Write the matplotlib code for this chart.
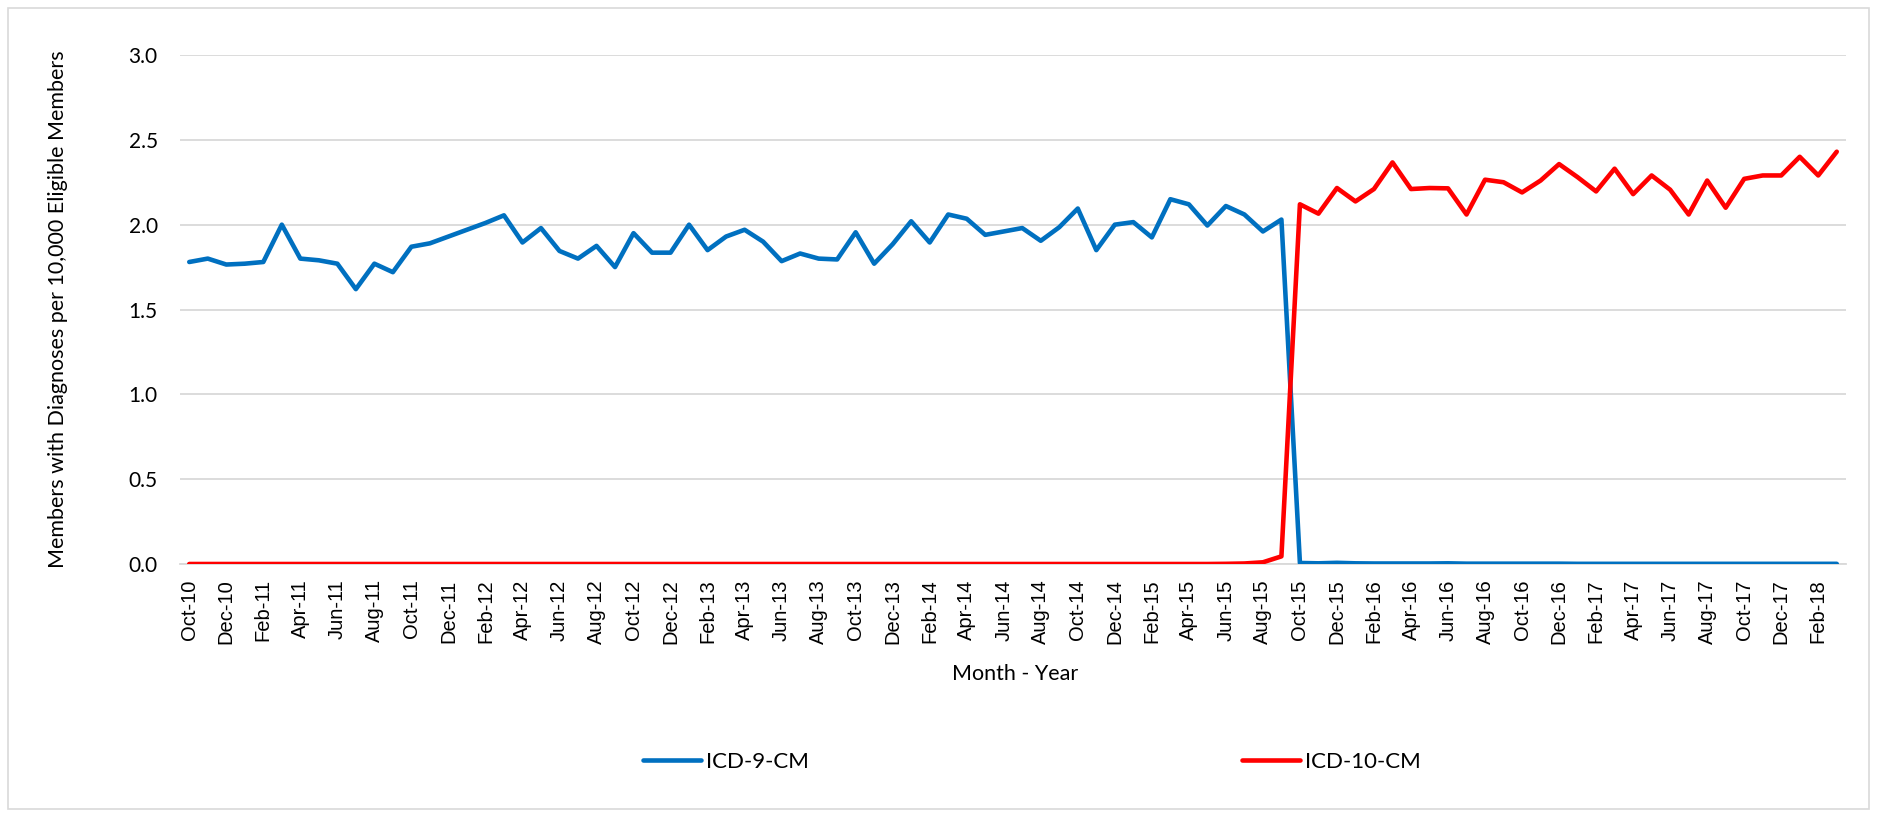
import matplotlib
matplotlib.use("Agg")
import matplotlib.pyplot as plt
from matplotlib.lines import Line2D
from matplotlib.patches import Rectangle
import pandas as pd

# monthly categories, Oct-10 .. Mar-18
months = pd.date_range("2010-10-01", periods=90, freq="MS").strftime("%b-%y").tolist()

icd9 = [
    1.78, 1.80, 1.765,
    1.77, 1.78, 2.00, 1.80, 1.79, 1.77, 1.62, 1.77, 1.72, 1.87, 1.89, 1.93,
    1.97, 2.01, 2.055, 1.895, 1.98, 1.845, 1.80, 1.875, 1.75, 1.95, 1.835, 1.835,
    2.00, 1.85, 1.93, 1.97, 1.90, 1.785, 1.83, 1.80, 1.795, 1.955, 1.77, 1.885,
    2.02, 1.895, 2.06, 2.035, 1.94, 1.96, 1.98, 1.905, 1.985, 2.095, 1.85, 2.00,
    2.015, 1.925, 2.15, 2.12, 1.995, 2.11, 2.06, 1.96, 2.03, 0.006, 0.004, 0.007,
    0.004, 0.003, 0.003, 0.003, 0.003, 0.004, 0.002, 0.002, 0.002, 0.002, 0.002, 0.002,
    0.001, 0.001, 0.001, 0.001, 0.001, 0.001, 0.001, 0.001, 0.001, 0.001, 0.001, 0.001,
    0.001, 0.001, 0.001,
]

icd10 = [
    0.0, 0.0, 0.0,
    0.0, 0.0, 0.0, 0.0, 0.0, 0.0, 0.0, 0.0, 0.0, 0.0, 0.0, 0.0,
    0.0, 0.0, 0.0, 0.0, 0.0, 0.0, 0.0, 0.0, 0.0, 0.0, 0.0, 0.0,
    0.0, 0.0, 0.0, 0.0, 0.0, 0.0, 0.0, 0.0, 0.0, 0.0, 0.0, 0.0,
    0.0, 0.0, 0.0, 0.0, 0.0, 0.0, 0.0, 0.0, 0.0, 0.0, 0.0, 0.0,
    0.0, 0.0, 0.0, 0.0, 0.0, 0.001, 0.003, 0.01, 0.045, 2.12, 2.065, 2.216,
    2.137, 2.21, 2.367, 2.21, 2.216, 2.214, 2.06, 2.265, 2.25, 2.19, 2.26, 2.357,
    2.28, 2.196, 2.33, 2.18, 2.29, 2.206, 2.06, 2.26, 2.10, 2.27, 2.29, 2.29,
    2.40, 2.29, 2.43,
]

BLUE = "#0070C0"
RED = "#FF0000"
GRID = "#D9D9D9"

W, H = 1877, 817
fig = plt.figure(figsize=(W / 100, H / 100), dpi=100)
# plot area in pixels: x 180..1846, y 55..564
ax = fig.add_axes([180 / W, 1 - 564 / H, (1846 - 180) / W, (564 - 55) / H])

x = list(range(len(months)))
ax.plot(x, icd9, color=BLUE, linewidth=3.3, solid_joinstyle="round",
        solid_capstyle="round", zorder=3)
ax.plot(x, icd10, color=RED, linewidth=3.3, solid_joinstyle="round",
        solid_capstyle="round", zorder=3)

ax.set_xlim(-0.5, len(months) - 0.5)
ax.set_ylim(0, 3.0)
yt = [0, 0.5, 1.0, 1.5, 2.0, 2.5, 3.0]
ax.set_yticks(yt)
ax.set_yticklabels(["%.1f" % v for v in yt], family="Lato", fontsize=15)
ax.yaxis.grid(True, color=GRID, linewidth=1.3)
ax.set_axisbelow(True)

ax.set_xticks(x[::2])
ax.set_xticklabels(months[::2], rotation=90, family="Liberation Sans", fontsize=14.5)
ax.tick_params(axis="both", length=0)
ax.tick_params(axis="y", pad=16)
ax.tick_params(axis="x", pad=11)

for side in ["top", "right", "left"]:
    ax.spines[side].set_visible(False)
ax.spines["bottom"].set_color(GRID)
ax.spines["bottom"].set_linewidth(1.3)

ax.set_ylabel("Members with Diagnoses per 10,000 Eligible Members",
              family="Lato", fontsize=15.5)
ax.yaxis.set_label_coords(-(180 - 68) / (1846 - 180), 0.5)
fig.text(1015 / W, 1 - 674 / H, "Month - Year", family="Lato", fontsize=15.5,
         ha="center", va="center")

# legend entries placed separately, like the spread-out Excel legend
for label, color, px in [("ICD-9-CM", BLUE, 634), ("ICD-10-CM", RED, 1233)]:
    h = Line2D([], [], color=color, linewidth=3.3, solid_capstyle="round")
    fig.legend([h], [label], loc="center left",
               bbox_to_anchor=(px / W - 0.006, 1 - 762 / H), frameon=False,
               handlelength=2.6, handletextpad=0.25,
               prop={"family": "Lato", "size": 16})

# outer chart border
fig.patches.append(Rectangle((8 / W, 8 / H), 1 - 16 / W, 1 - 16 / H,
                             transform=fig.transFigure, fill=False,
                             edgecolor=GRID, linewidth=1.2))

fig.savefig("out.png", dpi=100, facecolor="white")
